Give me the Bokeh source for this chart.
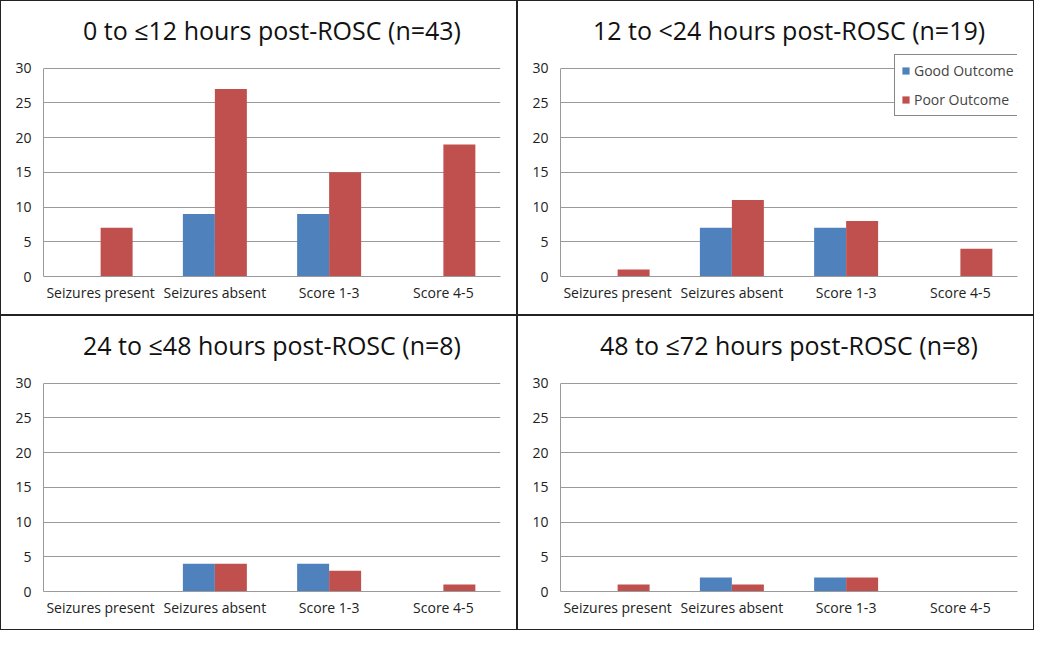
from bokeh.plotting import figure
from bokeh.layouts import gridplot
from bokeh.models import Range1d, FactorRange, ColumnDataSource
from bokeh.transform import dodge
from bokeh.embed import file_html
from bokeh.resources import INLINE

categories = ["Seizures present", "Seizures absent", "Score 1-3", "Score 4-5"]
titles = ["0 to \u226412 hours post-ROSC (n=43)",
          "12 to <24 hours post-ROSC (n=19)",
          "24 to \u226448 hours post-ROSC (n=8)",
          "48 to \u226472 hours post-ROSC (n=8)"]
good_0_12 = [0, 9, 9, 0]
poor_0_12 = [7, 27, 15, 19]
good_12_24 = [0, 7, 7, 0]
poor_12_24 = [1, 11, 8, 4]
good_24_48 = [0, 4, 4, 0]
poor_24_48 = [0, 4, 3, 1]
good_48_72 = [0, 2, 2, 0]
poor_48_72 = [1, 1, 2, 0]
y_ticks = [0, 5, 10, 15, 20, 25, 30]

GOOD = "#4F81BD"
POOR = "#C0504D"
FONT = "Open Sans"

series = [(good_0_12, poor_0_12), (good_12_24, poor_12_24),
          (good_24_48, poor_24_48), (good_48_72, poor_48_72)]

figs = []
for i, (title, (g, pr)) in enumerate(zip(titles, series)):
    src = ColumnDataSource(dict(cat=categories, good=g, poor=pr))
    p = figure(width=517, height=315, x_range=FactorRange(*categories),
               y_range=Range1d(0, 32.1), output_backend="svg",
               toolbar_location=None, title=title,
               min_border_left=42, min_border_right=18, min_border_bottom=40,
               min_border_top=52,
               styles={"border": "1px solid #222", "box-sizing": "border-box"})
    p.title.align = "center"
    p.title.text_font = FONT
    p.title.text_font_size = "25px"
    p.title.text_font_style = "normal"
    p.title.text_color = "#111"
    p.title.standoff = 14
    p.outline_line_color = None
    kw_g = dict(legend_label="Good Outcome") if i == 1 else {}
    kw_p = dict(legend_label="Poor Outcome") if i == 1 else {}
    p.vbar(x=dodge("cat", -0.14, range=p.x_range), top="good", width=0.28,
           source=src, color=GOOD, line_color=None, **kw_g)
    p.vbar(x=dodge("cat", 0.14, range=p.x_range), top="poor", width=0.28,
           source=src, color=POOR, line_color=None, **kw_p)
    p.xgrid.grid_line_color = None
    p.ygrid.grid_line_color = "#9a9a9a"
    p.ygrid.ticker = y_ticks
    p.yaxis.ticker = y_ticks
    p.yaxis.bounds = (0, 30)
    for ax in (p.xaxis[0], p.yaxis[0]):
        ax.axis_line_color = "#9a9a9a"
        ax.major_tick_line_color = None
        ax.minor_tick_line_color = None
        ax.major_tick_out = 0
        ax.major_tick_in = 0
        ax.major_label_text_font = FONT
        ax.major_label_text_font_size = "14px"
        ax.major_label_text_color = "#222"
    p.yaxis.major_label_standoff = 12
    p.xaxis.major_label_standoff = 6
    p.x_range.range_padding = 0
    if i == 1:
        lg = p.legend[0]
        lg.location = (334, 160)
        lg.border_line_color = "#111"
        lg.border_line_width = 1
        lg.label_text_font = FONT
        lg.label_text_font_size = "14px"
        lg.glyph_width = 9
        lg.glyph_height = 9
        lg.label_standoff = 4
        lg.spacing = 10
        lg.padding = 6
        lg.margin = 0
        lg.background_fill_alpha = 1
    figs.append(p)

grid = gridplot([[figs[0], figs[1]], [figs[2], figs[3]]], toolbar_location=None)
open("out.html", "w").write(file_html(grid, INLINE))
